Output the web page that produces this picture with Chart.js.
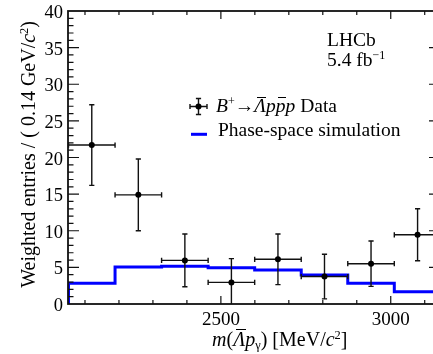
<!DOCTYPE html>
<html>
<head>
<meta charset="utf-8">
<script src="https://cdn.jsdelivr.net/npm/chart.js@4.4.1/dist/chart.umd.min.js"></script>
<style>
  html, body { margin: 0; padding: 0; background: #fff; }
  #wrap { position: relative; width: 433px; height: 354px; overflow: hidden; background: #fff; }
  #c { position: absolute; left: 0; top: 0; }
  .t { position: absolute; font-family: "Liberation Serif", "Times New Roman", serif; font-size: 19.5px;
       line-height: 19.5px; color: #000; white-space: nowrap; }
  .i { font-style: italic; }
  .ov { position: relative; }
  .ov::after { content: ""; position: absolute; left: 0.12em; right: -0.02em; top: 0.08em;
               border-top: 1.2px solid #000; }
  .sup { font-size: 62%; position: relative; top: -0.55em; }
  .sub { font-size: 62%; position: relative; top: 0.3em; }
  .tick { position: absolute; font-family: "Liberation Serif", "Times New Roman", serif; color: #000;
          white-space: nowrap; }
</style>
</head>
<body>
<div id="wrap">
  <canvas id="c" width="450" height="354"></canvas>

  <div class="t" style="left:327px; top:30px; line-height:20px;">LHCb<br>5.4 fb<span class="sup">&minus;1</span></div>

  <div class="t" style="left:216px; top:96px;"><span class="i">B</span><span class="sup">+</span>&rarr;<span class="i ov">&Lambda;</span><span class="i">p</span><span class="i ov">p</span><span class="i">p</span> Data</div>
  <div class="t" style="left:218px; top:120px;">Phase-space simulation</div>

  <div class="t" style="left:18px; top:321px; width:300px; font-size:20px; line-height:20px; text-align:right; transform-origin:0 0; transform:rotate(-90deg);">Weighted entries / ( 0.14 GeV/<span class="i">c</span><span class="sup">2</span>)</div>

  <div class="t" style="left:212px; top:328.5px; font-size:20px; line-height:20px;"><span class="i">m</span>(<span class="i ov">&Lambda;</span><span class="i">p</span><span class="sub">&gamma;</span>) [MeV/<span class="i">c</span><span class="sup">2</span>]</div>
</div>

<script>
// Bin edges of the m(Λ̄p) histogram, in MeV/c^2
const binEdges = [2051.5, 2188.5, 2325.5, 2462.5, 2599.5, 2736.5, 2873.5, 3010.5, 3147.5];
// Weighted data yields per bin and their uncertainties
const dataCounts = [21.7, 14.9, 5.95, 2.95, 6.1, 3.75, 5.5, 9.45];
const dataErrors = [5.5, 4.9, 3.6, 3.25, 3.45, 3.05, 3.1, 3.55];
// Phase-space simulation, normalised
const simCounts = [2.82, 5.05, 5.14, 4.96, 4.64, 3.96, 2.82, 1.68];
// Axis tick labels
const xTickLabels = [2500, 3000];
const yTickLabels = [0, 5, 10, 15, 20, 25, 30, 35, 40];

const binCenters = dataCounts.map((_, i) => (binEdges[i] + binEdges[i + 1]) / 2);

// step-shaped outline for the simulation histogram
const simLine = [{ x: binEdges[0], y: 0 }];
simCounts.forEach((v, i) => simLine.push({ x: binEdges[i], y: v }));
simLine.push({ x: binEdges[binEdges.length - 1], y: simCounts[simCounts.length - 1] });

const dataPoints = binCenters.map((x, i) => ({ x, y: dataCounts[i] }));

const INK = '#111';

// horizontal + vertical error bars with small end caps
const errorBars = {
  id: 'errorBars',
  beforeDatasetDraw(chart, args) {
    if (args.index !== 1) return;
    const { ctx, scales: { x, y }, chartArea } = chart;
    ctx.save();
    ctx.strokeStyle = INK;
    ctx.lineWidth = 1.4;
    const cap = 2.6;
    dataCounts.forEach((v, i) => {
      const px = x.getPixelForValue(binCenters[i]);
      const py = y.getPixelForValue(v);
      const xl = Math.max(x.getPixelForValue(binEdges[i]), chartArea.left);
      const xr = Math.min(x.getPixelForValue(binEdges[i + 1]), chartArea.right);
      const yt = y.getPixelForValue(v + dataErrors[i]);
      const yb = y.getPixelForValue(Math.max(0, v - dataErrors[i]));
      ctx.beginPath();
      ctx.moveTo(xl, py); ctx.lineTo(xr, py);
      ctx.moveTo(px, yt); ctx.lineTo(px, yb);
      ctx.moveTo(xl, py - cap); ctx.lineTo(xl, py + cap);
      ctx.moveTo(xr, py - cap); ctx.lineTo(xr, py + cap);
      ctx.moveTo(px - cap, yt); ctx.lineTo(px + cap, yt);
      if (v - dataErrors[i] > 0) { ctx.moveTo(px - cap, yb); ctx.lineTo(px + cap, yb); }
      ctx.stroke();
    });
    ctx.restore();
  }
};

// closed frame with inward major/minor ticks on all four sides, plus legend keys
const frameAndKeys = {
  id: 'frameAndKeys',
  afterDraw(chart) {
    const { ctx, scales: { x, y }, chartArea: a } = chart;
    ctx.save();
    ctx.strokeStyle = INK;
    ctx.lineWidth = 1.2;
    ctx.beginPath();
    for (let v = 2100; v <= 3100; v += 100) {
      const px = x.getPixelForValue(v);
      const len = v % 500 === 0 ? 8 : 4;
      ctx.moveTo(px, a.bottom); ctx.lineTo(px, a.bottom - len);
      ctx.moveTo(px, a.top); ctx.lineTo(px, a.top + len);
    }
    for (let v = 1; v < 40; v += 1) {
      const py = y.getPixelForValue(v);
      const len = v % 5 === 0 ? 11 : 5.5;
      ctx.moveTo(a.left, py); ctx.lineTo(a.left + len, py);
      ctx.moveTo(a.right, py); ctx.lineTo(a.right - len, py);
    }
    ctx.stroke();
    ctx.lineWidth = 1.8;
    ctx.strokeRect(a.left, a.top, a.right - a.left, a.bottom - a.top);

    // legend key: data point with error bars
    const kx = 198.5, ky = 106.5;
    ctx.lineWidth = 1.4;
    ctx.beginPath();
    ctx.moveTo(kx - 8.5, ky); ctx.lineTo(kx + 8.5, ky);
    ctx.moveTo(kx, ky - 8); ctx.lineTo(kx, ky + 8);
    ctx.moveTo(kx - 2.6, ky - 8); ctx.lineTo(kx + 2.6, ky - 8);
    ctx.moveTo(kx - 2.6, ky + 8); ctx.lineTo(kx + 2.6, ky + 8);
    ctx.moveTo(kx - 8.5, ky - 2.6); ctx.lineTo(kx - 8.5, ky + 2.6);
    ctx.moveTo(kx + 8.5, ky - 2.6); ctx.lineTo(kx + 8.5, ky + 2.6);
    ctx.stroke();
    ctx.fillStyle = '#000';
    ctx.beginPath(); ctx.arc(kx, ky, 3, 0, Math.PI * 2); ctx.fill();
    // legend key: simulation line
    ctx.strokeStyle = '#0000ff';
    ctx.lineWidth = 3;
    ctx.beginPath(); ctx.moveTo(191, 134.3); ctx.lineTo(207, 134.3); ctx.stroke();
    ctx.restore();
  }
};

// serif tick labels placed at the positions the chart's own scales give for each tick
const tickText = {
  id: 'tickText',
  afterRender(chart) {
    const wrap = document.getElementById('wrap');
    wrap.querySelectorAll('.tick').forEach(n => n.remove());
    const { scales: { x, y }, chartArea: a } = chart;
    x.ticks.forEach(t => {
      const d = document.createElement('div');
      d.className = 'tick';
      d.textContent = String(t.value);
      d.style.cssText = 'font-size:19px;line-height:19px;width:60px;text-align:center;' +
        'left:' + (x.getPixelForValue(t.value) - 30) + 'px;top:' + (a.bottom + 4.8) + 'px;';
      wrap.appendChild(d);
    });
    y.ticks.forEach(t => {
      const d = document.createElement('div');
      d.className = 'tick';
      d.textContent = String(t.value);
      d.style.cssText = 'font-size:18.5px;line-height:18.5px;width:40px;text-align:right;' +
        'left:' + (a.left - 5 - 40) + 'px;top:' + (y.getPixelForValue(t.value) - 8) + 'px;';
      wrap.appendChild(d);
    });
  }
};

new Chart(document.getElementById('c'), {
  data: {
    datasets: [
      {
        type: 'line', label: 'Phase-space simulation', data: simLine,
        stepped: true, borderColor: '#0000ff', borderWidth: 3, pointRadius: 0,
        fill: false, borderJoinStyle: 'miter', order: 2
      },
      {
        type: 'scatter', label: 'Data', data: dataPoints,
        pointRadius: 3, pointBackgroundColor: '#000', pointBorderWidth: 0, order: 1
      }
    ]
  },
  options: {
    responsive: false,
    animation: false,
    devicePixelRatio: 1,
    layout: { padding: { top: 11, right: 10, left: 0, bottom: 0 } },
    plugins: { legend: { display: false }, tooltip: { enabled: false } },
    scales: {
      x: {
        type: 'linear', position: 'bottom', min: 2050, max: 3145,
        grid: { display: false, drawTicks: false }, border: { display: false },
        ticks: { display: false },
        afterBuildTicks: s => { s.ticks = xTickLabels.map(v => ({ value: v })); },
        afterFit: s => { s.height = 50; }
      },
      y: {
        type: 'linear', position: 'left', min: 0, max: 40,
        grid: { display: false, drawTicks: false }, border: { display: false },
        ticks: { display: false },
        afterBuildTicks: s => { s.ticks = yTickLabels.map(v => ({ value: v })); },
        afterFit: s => { s.width = 68; }
      }
    }
  },
  plugins: [errorBars, frameAndKeys, tickText]
});
</script>
</body>
</html>
